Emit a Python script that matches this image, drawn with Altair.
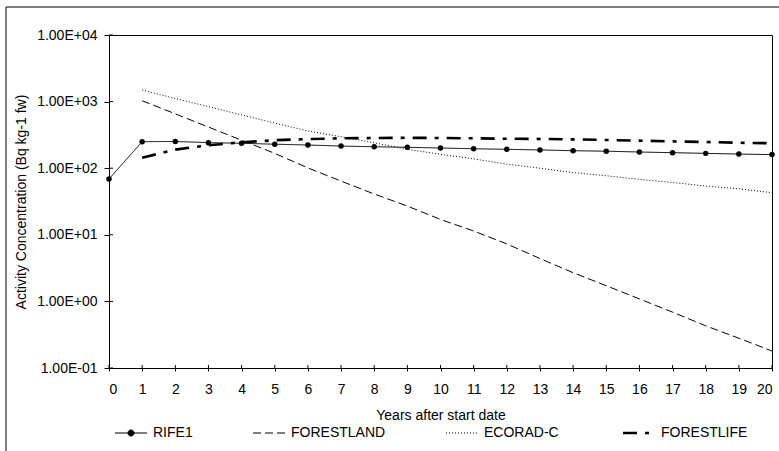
import altair as alt
import pandas as pd

# ---- data ----
years = list(range(21))
series = ["RIFE1", "FORESTLAND", "ECORAD-C", "FORESTLIFE"]
rife1 = [69, 250, 252, 242, 237, 229, 223, 215, 210, 206, 201, 196, 192, 188, 183, 180, 175, 171, 167, 163, 160]
forestland = [None, 1030, 655, 415, 263, 167, 101, 64, 41, 27, 17, 11.4, 7.3, 4.4, 2.7, 1.72, 1.09, 0.69, 0.43, 0.28, 0.18]
ecorad = [None, 1490, 1115, 840, 630, 475, 362, 297, 241, 192, 162, 138, 115, 100, 86, 77, 68, 61, 54, 49, 43]
forestlife = [None, 144, 190, 221, 245, 263, 274, 281, 284, 286, 284, 281, 277, 275, 271, 265, 259, 253, 247, 241, 237]
y_ticks = [0.1, 1, 10, 100, 1000, 10000]
x_ticks = years
dashes = [[1, 0], [8, 4], [1, 2], [14, 8, 4, 8]]

rows = []
for name, vals in zip(series, [rife1, forestland, ecorad, forestlife]):
    for yr, v in zip(years, vals):
        if v is not None:
            rows.append({"year": yr, "value": v, "series": name})
df = pd.DataFrame(rows)

FONT = "Liberation Sans"
W, H = 663, 333
X_TITLE = "Years after start date"
Y_TITLE = "Activity Concentration (Bq kg-1 fw)"

label_expr = (
    "format(datum.value / pow(10, round(log(datum.value)/LN10)), '.2f') + 'E' + "
    "(round(log(datum.value)/LN10) < 0 ? '-' : '+') + "
    "(abs(round(log(datum.value)/LN10)) < 10 ? '0' : '') + abs(round(log(datum.value)/LN10))"
)

xscale = alt.Scale(domain=[0, 20], nice=False, zero=False)
yscale = alt.Scale(type="log", domain=[0.1, 10000], nice=False)
xaxis = alt.Axis(values=x_ticks, format="d", title=X_TITLE, tickSize=3,
                 labelPadding=11, titlePadding=12, grid=False)
yaxis = alt.Axis(values=y_ticks, labelExpr=label_expr, title=Y_TITLE,
                 tickSize=5, labelPadding=7, titlePadding=8, grid=False)

rife_shape = "M-1,0H1M-0.19,0A0.19,0.19,0,1,0,0.19,0A0.19,0.19,0,1,0,-0.19,0"

legend = alt.Legend(
    title=None, orient="none", legendX=15, legendY=391, direction="horizontal",
    columns=4, columnPadding=58,
    symbolType=alt.ExprRef(expr=f"datum.value === 'RIFE1' ? '{rife_shape}' : 'stroke'"),
    symbolStrokeWidth=alt.ExprRef(expr="datum.value === 'FORESTLIFE' ? 2.6 : 1"),
    symbolSize=1024,
    symbolStrokeColor="black", symbolFillColor="black", labelOffset=15,
    labelFont=FONT, labelFontSize=14, labelColor="black", padding=0,
)

frame_top = alt.Chart(alt.Data(values=[{}])).mark_rule(color="black", strokeWidth=1).encode(
    x=alt.value(-103), x2=alt.value(670), y=alt.value(-28))
frame_left = alt.Chart(alt.Data(values=[{}])).mark_rule(color="black", strokeWidth=1).encode(
    x=alt.value(-103), y=alt.value(-28), y2=alt.value(416))

lines = alt.Chart(df).mark_line(color="black").encode(
    x=alt.X("year:Q", scale=xscale, axis=xaxis, title=X_TITLE),
    y=alt.Y("value:Q", scale=yscale, axis=yaxis, title=Y_TITLE),
    strokeDash=alt.StrokeDash("series:N", scale=alt.Scale(domain=series, range=dashes), legend=legend),
    strokeWidth=alt.condition(alt.datum.series == "FORESTLIFE", alt.value(2.6), alt.value(1)),
)

points = alt.Chart(df).transform_filter(alt.datum.series == "RIFE1").mark_point(
    filled=True, color="black", size=30, opacity=1
).encode(x=alt.X("year:Q", scale=xscale, axis=xaxis, title=X_TITLE),
         y=alt.Y("value:Q", scale=yscale, axis=yaxis, title=Y_TITLE))

ytick_in = alt.Chart(pd.DataFrame({"value": y_ticks})).mark_rule(color="black").encode(
    y=alt.Y("value:Q", scale=yscale, axis=yaxis, title=Y_TITLE), x=alt.value(0), x2=alt.value(4))
xtick_in = alt.Chart(pd.DataFrame({"year": x_ticks})).mark_rule(color="black").encode(
    x=alt.X("year:Q", scale=xscale, axis=xaxis, title=X_TITLE), y=alt.value(H - 3), y2=alt.value(H))

chart = alt.layer(lines, points, ytick_in, xtick_in, frame_top, frame_left).properties(
    width=W, height=H,
    autosize=alt.AutoSizeParams(type="none"),
    padding={"left": 109, "top": 35, "right": 7, "bottom": 83},
    background="white",
).configure_view(stroke="black", strokeWidth=1).configure_axis(
    domainColor="black", domainWidth=1, tickColor="black", tickWidth=1,
    labelFont=FONT, labelFontSize=14, labelColor="black",
    titleFont=FONT, titleFontSize=14, titleFontWeight="normal", titleColor="black",
)

chart.save("out.html", embed_options={"renderer": "svg", "actions": False})
